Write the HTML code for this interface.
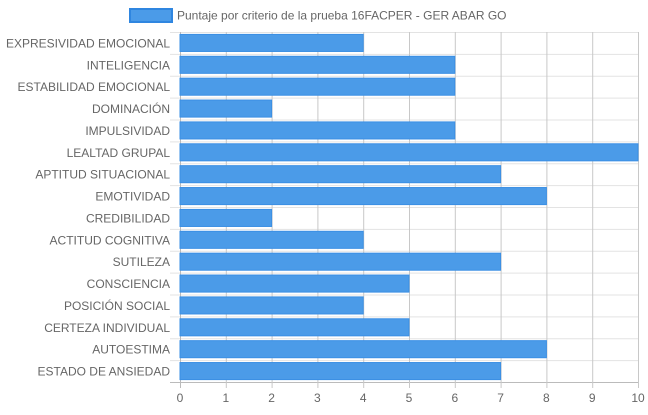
<!DOCTYPE html>
<html><head><meta charset="utf-8"><style>
body{margin:0;background:#fff;font-family:"Liberation Sans",sans-serif;}
</style></head><body>
<svg id="c" width="648" height="410" xmlns="http://www.w3.org/2000/svg" style="font-family:'Liberation Sans',sans-serif">
<g>
<rect x="130" y="9" width="42" height="13" fill="#4b9be8" stroke="#2f86e0" stroke-width="2"/>
<text x="177" y="19.5" font-size="12" fill="#666">Puntaje por criterio de la prueba 16FACPER - GER ABAR GO</text>
</g>
</svg>
<script>
const categories=["EXPRESIVIDAD EMOCIONAL","INTELIGENCIA","ESTABILIDAD EMOCIONAL","DOMINACIÓN","IMPULSIVIDAD","LEALTAD GRUPAL","APTITUD SITUACIONAL","EMOTIVIDAD","CREDIBILIDAD","ACTITUD COGNITIVA","SUTILEZA","CONSCIENCIA","POSICIÓN SOCIAL","CERTEZA INDIVIDUAL","AUTOESTIMA","ESTADO DE ANSIEDAD"];
const values=[4,6,6,2,6,10,7,8,2,4,7,5,4,5,8,7];
const xTicks=[0,1,2,3,4,5,6,7,8,9,10];
const svg=document.getElementById('c');
const NS='http://www.w3.org/2000/svg';
const L=180,R=638,T=32,B=382,xMax=10;
const x=v=>L+(R-L)*v/xMax;
const band=(B-T)/categories.length;
const y=i=>T+band*i;
function mk(t,a){const e=document.createElementNS(NS,t);for(const k in a)e.setAttribute(k,a[k]);svg.appendChild(e);return e;}
// horizontal grid
for(let i=0;i<=categories.length;i++){
 const l=mk('line',{x1:170,x2:R,y1:y(i)+0.5,y2:y(i)+0.5,stroke:i==categories.length?'#bbb':'#e3e3e3'});
 
 
}
xTicks.forEach(t=>{
 const l=mk('line',{x1:x(t)+0.5,x2:x(t)+0.5,y1:T,y2:B+6,stroke:t==0?'#bbb':'#c8c8c8'});
 
 
 const tx=mk('text',{x:x(t),y:B+20,'font-size':12,fill:'#666','text-anchor':'middle'});
 tx.textContent=t;
 
 
});
categories.forEach((c,i)=>{
 const bh=band*0.78;
 const r=mk('rect',{x:x(0),y:y(i)+(band-bh)/2,width:x(values[i])-x(0),height:bh,fill:'#4b9be8',stroke:'#3a8fe4','stroke-width':1});
 
 
 const tx=mk('text',{x:170,y:y(i)+band/2+4.5,'font-size':12,fill:'#666','text-anchor':'end'});
 tx.textContent=c;
 
 
});
</script>
</body></html>
